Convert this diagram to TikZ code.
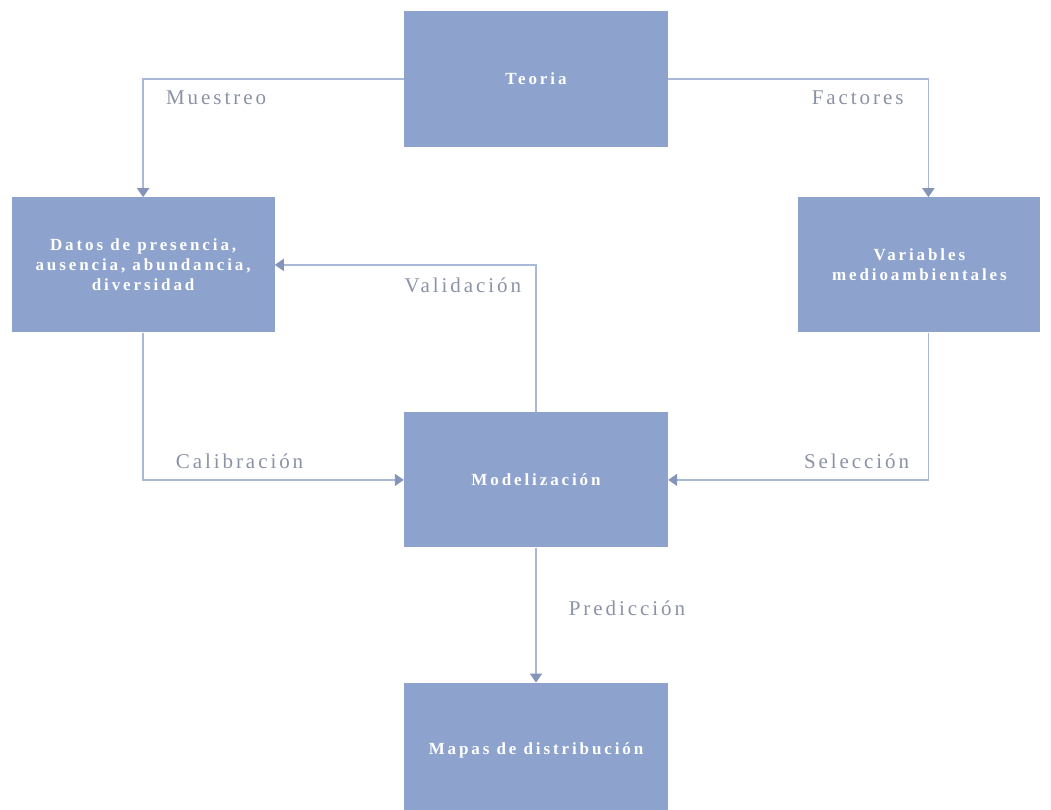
\documentclass[tikz,border=0pt]{standalone}
\usepackage{fontspec}
\setmainfont{Liberation Serif}
\usepackage{tikz}
\usetikzlibrary{positioning,arrows.meta}
\definecolor{boxblue}{RGB}{141,163,205}
\definecolor{linkblue}{RGB}{170,184,216}
\definecolor{tipblue}{RGB}{132,148,186}
\definecolor{labelgray}{RGB}{140,146,166}
\newfontfamily\boxfont[LetterSpace=17]{Liberation Serif}
\newfontfamily\labelfont[LetterSpace=14]{Liberation Serif}

\begin{document}
\begin{tikzpicture}[
    x=1pt, y=1pt,
    block/.style={rectangle, fill=boxblue, text=white, inner sep=0pt, minimum width=264pt, minimum height=136pt, align=center, font=\boxfont\fontsize{17}{20}\selectfont\bfseries},
    link/.style={draw=linkblue, line width=1.6pt, -{Triangle[length=9pt, width=12pt, color=tipblue]}},
    tag/.style={inner sep=0pt, text=labelgray, font=\labelfont\fontsize{21}{24}\selectfont}
]
    \useasboundingbox (0,-809) rectangle (1051,0);

    \node[block] (teoria) at (536,-79) {Teoria};
    \node[block, minimum width=263pt, minimum height=135pt, below left=50pt and 129pt of teoria] (datos) {Datos de presencia,\\ausencia, abundancia,\\diversidad};
    \node[block, minimum width=242pt, minimum height=135pt, below right=50pt and 130pt of teoria] (variables) {Variables\\medioambientales};
    \node[block, minimum height=135pt, below=265pt of teoria] (modelizacion) {Modelización};
    \node[block, below=135pt of modelizacion] (mapas) {Mapas de distribución};

    \draw[link] (teoria.west) -| node[tag, pos=0.36, below=11pt] (muestreo) {Muestreo} (datos.north);
    \draw[link] (teoria.east) -| node[tag, pos=0.364, below=11pt] (factores) {Factores} ([xshift=9pt]variables.north);
    \draw[link] (modelizacion.north) |- node[tag, pos=0.64, below=12pt] (validacion) {Validación} (datos.east);
    \draw[link] (datos.south) |- node[tag, pos=0.685, above=10pt] (calibracion) {Calibración} (modelizacion.west);
    \draw[link] ([xshift=9pt]variables.south) |- node[tag, pos=0.638, above=10pt] (seleccion) {Selección} (modelizacion.east);
    \draw[link] (modelizacion.south) -- node[tag, pos=0.45, right=32pt] (prediccion) {Predicción} (mapas.north);
\end{tikzpicture}
\end{document}
